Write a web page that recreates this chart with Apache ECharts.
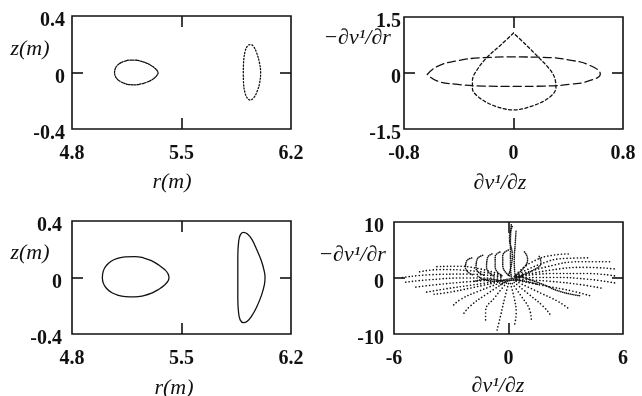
<!DOCTYPE html>
<html><head><meta charset="utf-8">
<script src="https://cdn.jsdelivr.net/npm/echarts@6/dist/echarts.min.js"></script>
<style>html,body{margin:0;background:#fff}#c{width:642px;height:396px}</style>
</head><body><div id="c"></div>
<script>
// ---- tick labels ----
const rTicks = [4.8, 5.5, 6.2];
const zTicks = [-0.4, 0, 0.4];
const dzTicksTop = [-0.8, 0, 0.8];
const drTicksTop = [-1.5, 0, 1.5];
const dzTicksBot = [-6, 0, 6];
const drTicksBot = [-10, 0, 10];

// ---- panel 1 (top-left): r(m) vs z(m) ----
const eggTop = [[5.072,0],[5.076,0.025],[5.088,0.048],[5.108,0.066],[5.135,0.079],[5.17,0.087],[5.205,0.087],[5.24,0.08],[5.275,0.067],[5.305,0.05],[5.33,0.03],[5.345,0.012],[5.35,-0.003],[5.343,-0.02],[5.328,-0.038],[5.305,-0.055],[5.275,-0.07],[5.24,-0.081],[5.205,-0.087],[5.17,-0.086],[5.135,-0.077],[5.108,-0.063],[5.088,-0.045],[5.076,-0.024],[5.072,0]];
const ovalTop = [[5.895,0],[5.898,0.09],[5.908,0.155],[5.922,0.188],[5.94,0.198],[5.96,0.185],[5.98,0.14],[5.998,0.07],[6.006,0],[6.0,-0.07],[5.985,-0.13],[5.962,-0.178],[5.94,-0.195],[5.92,-0.18],[5.905,-0.14],[5.897,-0.08],[5.895,0]];

// ---- panel 2 (top-right) ----
const tearTop = [[0,1.07],[-0.09,0.76],[-0.19,0.43],[-0.26,0.12],[-0.3,-0.2],[-0.3,-0.42],[-0.25,-0.66],[-0.14,-0.88],[0,-0.99],[0.14,-0.88],[0.26,-0.66],[0.31,-0.4],[0.3,-0.12],[0.26,0.12],[0.18,0.43],[0.09,0.76],[0,1.07]];
const ellTop = [[-0.63,-0.04],[-0.56,0.17],[-0.42,0.32],[-0.22,0.41],[0,0.43],[0.22,0.42],[0.42,0.34],[0.56,0.2],[0.634,-0.03],[0.56,-0.2],[0.42,-0.3],[0.22,-0.35],[0,-0.36],[-0.22,-0.35],[-0.42,-0.3],[-0.56,-0.21],[-0.63,-0.04]];

// ---- panel 3 (bottom-left) ----
const eggBot = [[4.994,0],[5.0,0.045],[5.02,0.085],[5.05,0.115],[5.09,0.135],[5.14,0.146],[5.2,0.148],[5.26,0.138],[5.31,0.118],[5.355,0.088],[5.39,0.058],[5.412,0.03],[5.42,0],[5.412,-0.028],[5.39,-0.055],[5.355,-0.083],[5.31,-0.11],[5.26,-0.128],[5.2,-0.137],[5.14,-0.135],[5.09,-0.124],[5.05,-0.104],[5.02,-0.076],[5.0,-0.04],[4.994,0]];
const dBot = [[5.86,0],[5.86,0.15],[5.865,0.25],[5.875,0.3],[5.895,0.32],[5.92,0.31],[5.95,0.27],[5.98,0.2],[6.01,0.12],[6.03,0.04],[6.034,0],[6.03,-0.05],[6.01,-0.13],[5.98,-0.21],[5.95,-0.27],[5.92,-0.31],[5.895,-0.32],[5.875,-0.3],[5.865,-0.25],[5.86,-0.15],[5.86,0]];

// ---- panel 4 (bottom-right): trajectories ----
const denseCurves = [
  [[-1.9,0.6],[-2.25,1.8],[-2.2,3.0],[-1.9,3.6]],
  [[-1.3,0.5],[-1.7,1.8],[-1.65,3.3],[-1.3,4.1]],
  [[-0.8,0.4],[-1.15,1.9],[-1.1,3.6],[-0.8,4.4]],
  [[-0.35,0.4],[-0.7,2.0],[-0.7,3.8],[-0.4,4.7]],
  [[0.05,0.4],[-0.3,2.2],[-0.3,4.0],[0.0,5.0]],
  [[0.3,0.3],[0.8,1.8],[1.0,3.4],[0.8,4.8]],
  [[0.4,0.2],[1.3,1.4],[1.7,2.8],[1.6,3.9]],
  [[0.15,0],[0.1,3],[0.1,6],[0.15,9.8]],
  [[0.35,0.2],[0.3,3],[0.35,6],[0.4,8.6]],
  [[0.0,0.5],[0.2,4],[0.05,7.2],[0.2,9.2]],
  [[-1.8,-0.6],[-1.0,-0.2],[-0.3,-0.5],[0.5,-0.2]],
  [[-1.6,0.3],[-0.8,-0.6],[0,-0.2],[0.8,0.3]],
  [[-0.4,-1.2],[0.2,-0.4],[0.9,-0.6],[1.6,-1.2]],
  [[0.6,0.3],[1.7,-1.0],[2.7,-2.4],[3.8,-3.2]]
];
const sparseCurves = [
  [[0.4,0.6],[1.2,2.8],[2.4,4.1],[3.2,4.3]],
  [[0.4,0.4],[1.6,2.4],[3.0,3.5],[4.3,3.6]],
  [[0.4,0.3],[2.0,2.0],[3.8,2.9],[5.4,2.9]],
  [[0.4,0.2],[2.2,1.4],[4.0,1.9],[5.6,1.6]],
  [[0.4,0.1],[2.3,0.8],[4.1,0.8],[5.7,0.3]],
  [[0.4,0],[2.3,0.1],[4.1,-0.2],[5.6,-0.9]],
  [[0.4,-0.2],[2.2,-0.6],[3.8,-1.2],[5.0,-1.9]],
  [[0.4,-0.4],[1.9,-1.4],[3.3,-2.3],[4.3,-3.2]],
  [[0.4,-0.6],[1.5,-2.4],[2.6,-4.2],[3.2,-5.6]],
  [[0.3,-0.8],[1.1,-3.0],[1.8,-5.0],[2.2,-6.6]],
  [[0.2,-1],[0.7,-3.4],[1.1,-5.6],[1.2,-7.6]],
  [[0.1,-1],[0.3,-3.6],[0.4,-6.2],[0.3,-8.6]],
  [[0,-1],[-0.2,-3.6],[-0.4,-6.5],[-0.6,-9.3]],
  [[-0.1,-0.9],[-0.7,-3.4],[-1.2,-6.0],[-1.2,-7.8]],
  [[-0.2,-0.8],[-1.2,-3.0],[-2.0,-5.0],[-2.4,-6.6]],
  [[-0.3,-0.7],[-1.6,-2.4],[-2.5,-3.8],[-2.9,-4.9]],
  [[-0.4,-0.6],[-2.0,-1.8],[-3.2,-2.6],[-3.9,-2.9]],
  [[-0.4,0.6],[-1.6,1.7],[-2.8,2.1],[-3.9,2.0]],
  [[-0.4,0.4],[-2.0,1.3],[-3.6,1.5],[-4.8,1.0]],
  [[-0.4,0.2],[-2.2,0.7],[-4.0,0.6],[-5.7,0.0]],
  [[-0.4,0],[-2.3,0.0],[-4.1,-0.3],[-5.5,-0.8]],
  [[-0.4,-0.3],[-2.2,-0.7],[-3.8,-1.2],[-5.0,-1.7]],
  [[-0.4,-0.5],[-2.0,-1.3],[-3.4,-2.0],[-4.4,-2.6]]
];

const INK = '#111';
const FONT = '"Liberation Serif","DejaVu Serif",serif';

const grids = [
  {left:72, top:16, width:219, height:113},
  {left:404, top:17, width:219, height:112},
  {left:72, top:221, width:219, height:113},
  {left:394, top:222, width:229, height:112}
].map(g => Object.assign(g, {show:true, borderColor:INK, borderWidth:1.6, backgroundColor:'transparent', containLabel:false}));

function axisPair(kind, gi, ticks, labelMargin) {
  const base = {
    gridIndex: gi, type:'value', min: ticks[0], max: ticks[2],
    splitLine:{show:false}, axisLine:{show:false, onZero:false},
    axisTick:{show:true, inside:true, length:11, lineStyle:{color:INK, width:1.6}, customValues:[ticks[1]]}
  };
  const lab = {show:true, customValues:ticks, color:INK, fontFamily:FONT, fontSize:20, fontWeight:'bold', margin: labelMargin};
  if (kind === 'y') {
    lab.formatter = v => '{a|' + v + '}';
    lab.rich = {a:{fontFamily:FONT, fontSize:20, fontWeight:'bold', color:INK, padding:[10,0,0,0]}};
  }
  const main = Object.assign({}, base, {position: kind==='x' ? 'bottom' : 'left', axisLabel: lab});
  const mirror = Object.assign({}, base, {position: kind==='x' ? 'top' : 'right', axisLabel:{show:false}});
  return [main, mirror];
}

const xAxis = [].concat(
  axisPair('x',0,rTicks,15), axisPair('x',1,dzTicksTop,15),
  axisPair('x',2,rTicks,15), axisPair('x',3,dzTicksBot,15));
const yAxis = [].concat(
  axisPair('y',0,zTicks,7), axisPair('y',1,drTicksTop,3),
  axisPair('y',2,zTicks,10), axisPair('y',3,drTicksBot,10));

function curve(data, gi, dash, width, smooth) {
  return {type:'line', data, xAxisIndex: gi*2, yAxisIndex: gi*2, showSymbol:false, smooth: smooth, silent:true,
    lineStyle:{color:INK, width: width, type: dash, cap:'round'}, animation:false, clip:true};
}

const series = [
  curve(eggTop, 0, [1.5,1.2], 1.3, 0.5),
  curve(ovalTop, 0, [1.2,2], 1.3, 0.4),
  curve(tearTop, 1, [3,2.5], 1.3, 0.35),
  curve(ellTop, 1, [8,4], 1.3, 0.5),
  curve(eggBot, 2, 'solid', 1.3, 0.5),
  curve(dBot, 2, 'solid', 1.3, 0.4)
];
denseCurves.forEach(c => series.push(curve(c, 3, [0.1,1.8], 1.6, 0.5)));
sparseCurves.forEach(c => series.push(curve(c, 3, [0.1,3.3], 1.6, 0.5)));

function label(text, x, y) {
  return {type:'text', x, y, style:{text, fill:INK, font:'italic 22px '+FONT, textAlign:'center', textVerticalAlign:'middle'}};
}
const graphic = [
  label('z(m)', 30, 49), label('r(m)', 172, 182),
  label('\u2212\u2202v\u00b9/\u2202r', 357, 38), label('\u2202v\u00b9/\u2202z', 500, 183),
  label('z(m)', 30, 253), label('r(m)', 174, 388),
  label('\u2212\u2202v\u00b9/\u2202r', 352, 255), label('\u2202v\u00b9/\u2202z', 498, 386)
];

const chart = echarts.init(document.getElementById('c'));
chart.setOption({backgroundColor:'#fff', animation:false, grid: grids, xAxis, yAxis, series, graphic});
</script></body></html>
